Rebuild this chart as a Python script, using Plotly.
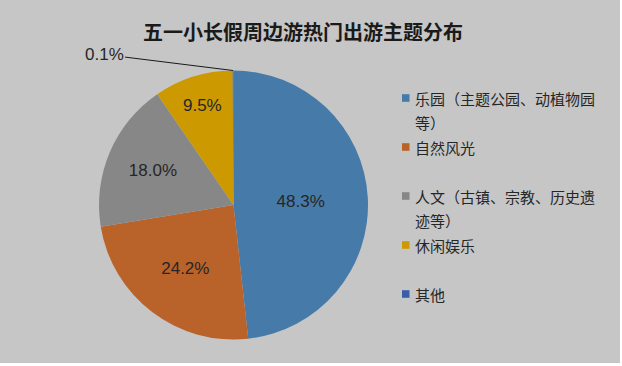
import math
import plotly.graph_objects as go

# ---- data ----
categories = ["乐园（主题公园、动植物园等）", "自然风光", "人文（古镇、宗教、历史遗迹等）", "休闲娱乐", "其他"]
shares = [48.3, 24.2, 18.0, 9.5, 0.1]
title_text = "五一小长假周边游热门出游主题分布"

# ---- style ----
colors = ["#467AA8", "#B9622A", "#878787", "#CC9900", "#3A5DA8"]
W, H = 622, 366
BG = "#C6C6C6"
CJK = "Noto Sans CJK SC"
TXT = "#262626"
PIE_L, PIE_R, PIE_T, PIE_B = 99, 368, 70.5, 339.5


def px(x):
    return x / W


def py(y):
    return 1 - y / H


labels_txt = [f"{v:.1f}%" if v >= 1 else "" for v in shares]

fig = go.Figure()
fig.add_trace(go.Pie(
    labels=categories,
    values=shares,
    text=labels_txt,
    textinfo="text",
    textposition="inside",
    insidetextorientation="horizontal",
    sort=False,
    direction="clockwise",
    rotation=0,
    marker=dict(colors=colors, line=dict(width=0)),
    textfont=dict(family="Liberation Sans", size=17, color=TXT),
    showlegend=False,
    hoverinfo="label+value",
    domain=dict(x=[px(PIE_L), px(PIE_R)], y=[py(PIE_B), py(PIE_T)]),
))

shapes = [dict(type="rect", xref="paper", yref="paper", x0=0, x1=px(620), y0=py(363), y1=1,
               fillcolor=BG, line=dict(width=0), layer="below")]
annotations = []

# small slices: label outside with a leader line to the slice edge
cx, cy = (PIE_L + PIE_R) / 2, (PIE_T + PIE_B) / 2
r = (PIE_R - PIE_L) / 2
total = sum(shares)
cum = 0.0
for v in shares:
    mid = (cum + v / 2) / total * 2 * math.pi
    cum += v
    if v < 1:
        tx, ty = cx + r * math.sin(mid), cy - r * math.cos(mid)
        annotations.append(dict(text=f"{v:.1f}%", xref="paper", yref="paper",
                                x=px(tx), y=py(ty), ax=-129, ay=-16, axref="pixel", ayref="pixel",
                                showarrow=True, arrowhead=0, arrowwidth=1, arrowcolor="#1a1a1a",
                                standoff=0, startstandoff=0,
                                font=dict(family="Liberation Sans", size=17, color=TXT)))

# legend drawn as real text, wrapped at 12 characters per line
row0, pitch = 98, 24.5
for i, (cat, col) in enumerate(zip(categories, colors)):
    lines = [cat[k:k + 12] for k in range(0, len(cat), 12)]
    yc = row0 + 2 * i * pitch
    shapes.append(dict(type="rect", xref="paper", yref="paper",
                       x0=px(402), x1=px(409.5), y0=py(yc + 3.8), y1=py(yc - 3.8),
                       fillcolor=col, line=dict(width=0)))
    for j, ln in enumerate(lines):
        annotations.append(dict(text=ln, xref="paper", yref="paper",
                                x=px(413), y=py(yc + j * pitch), xanchor="left", yanchor="middle",
                                showarrow=False, font=dict(family=CJK, size=15, color=TXT)))

fig.update_layout(
    width=W, height=H,
    margin=dict(l=0, r=0, t=0, b=0),
    paper_bgcolor="white",
    plot_bgcolor=BG,
    title=dict(text="<b>" + title_text + "</b>", x=px(303), y=py(33), xanchor="center", yanchor="middle",
               font=dict(family=CJK, size=20, color="#1a1a1a")),
    shapes=shapes,
    annotations=annotations,
)

fig.write_html("out.html", config={"displayModeBar": False},
               post_script="document.body.style.margin='0';")
